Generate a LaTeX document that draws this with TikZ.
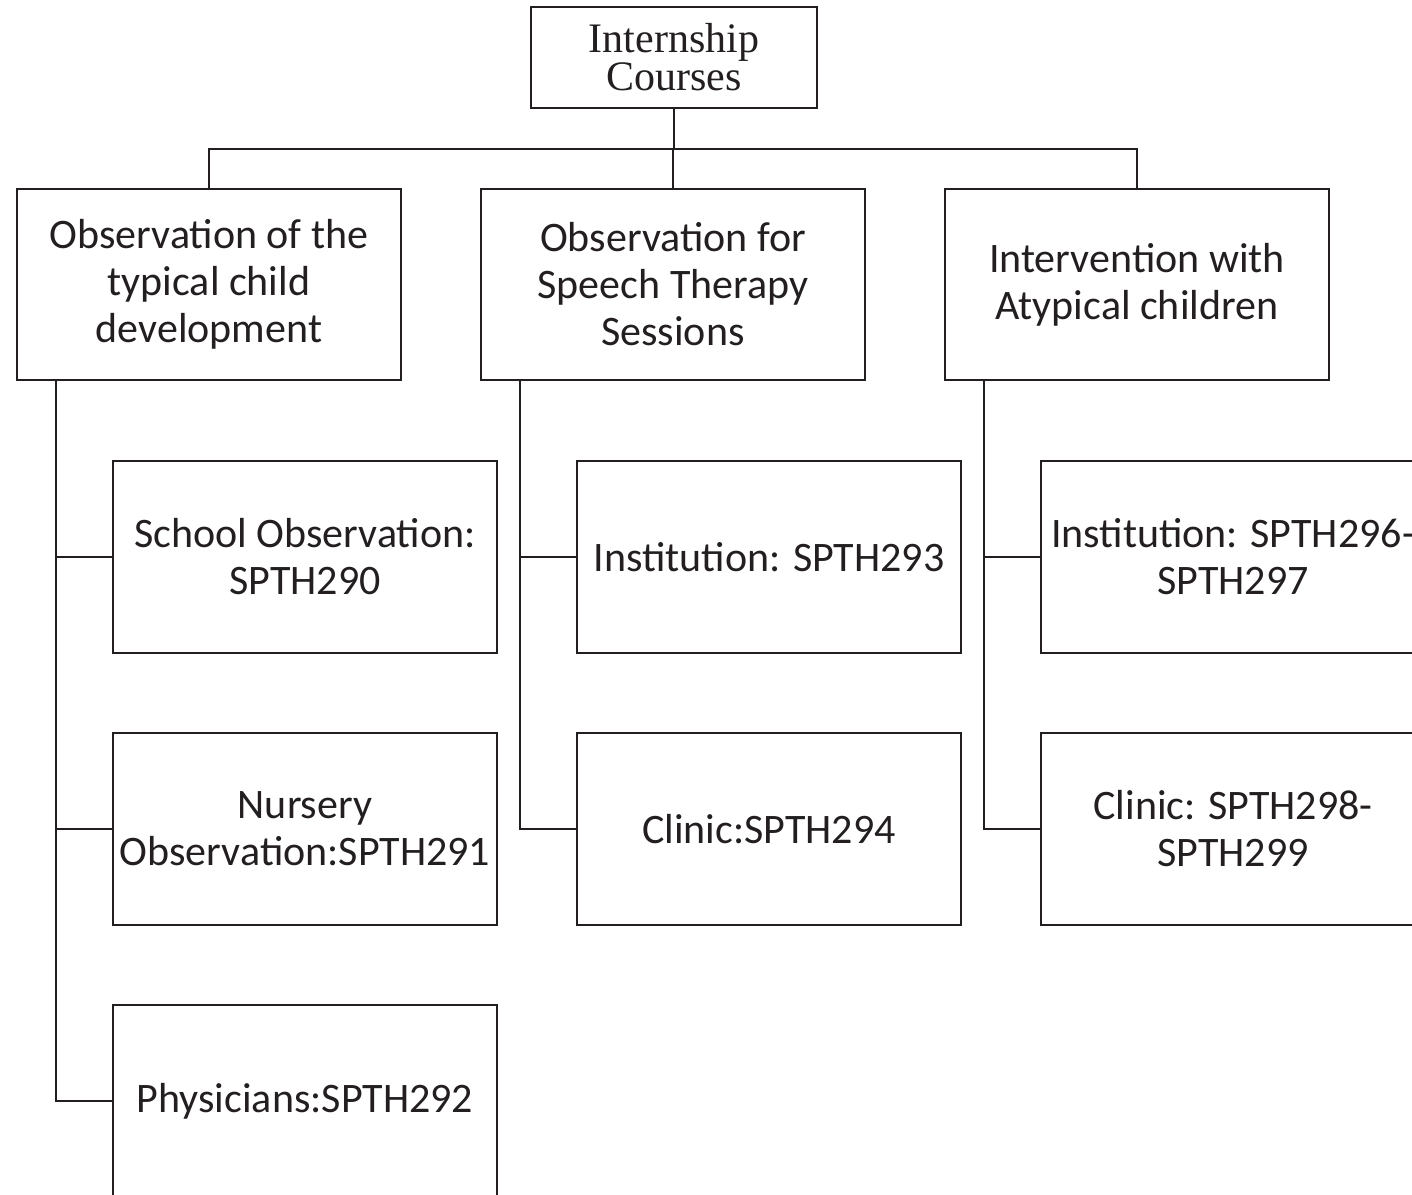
\documentclass[tikz,border=0pt]{standalone}
\usepackage{fontspec}
\usepackage{tikz}
\newfontfamily\calib{Carlito}
\newfontfamily\tms{Liberation Serif}
\definecolor{ink}{HTML}{231F20}

\begin{document}
\begin{tikzpicture}[line width=1.1pt,draw=ink,
    rootbox/.style={draw=ink,fill=white,text=ink,minimum width=143pt,minimum height=50.5pt,
        inner sep=0pt,align=center,font=\tms\fontsize{21}{19}\selectfont},
    groupbox/.style={draw=ink,text=ink,minimum width=192pt,minimum height=95.5pt,
        inner sep=0pt,align=center,font=\calib\fontsize{21}{23.5}\selectfont},
    coursebox/.style={groupbox,minimum height=96pt}]
\clip (0,0) rectangle (706pt,-597pt);
% top
\node[rootbox] (root) at (337pt,-28.75pt) {Internship\\Courses};
% groups
\node[groupbox] (typical) at (104.5pt,-142.25pt) {Observation of the\\typical child\\development};
\node[groupbox] (speech) at (336.5pt,-142.25pt) {Observation for\\Speech Therapy\\Sessions};
\node[groupbox] (atypical) at (568.5pt,-142.25pt) {Intervention with\\Atypical children};
% courses
\node[coursebox] (school) at (152.5pt,-278.5pt) {School Observation:\\SPTH290};
\node[coursebox] (nursery) at (152.5pt,-414.5pt) {Nursery\\Observation:SPTH291};
\node[coursebox] (physicians) at (152.5pt,-550.5pt) {Physicians:SPTH292};
\node[coursebox] (inst) at (384.5pt,-278.5pt) {Institution: SPTH293};
\node[coursebox] (clinic) at (384.5pt,-414.5pt) {Clinic:SPTH294};
\node[coursebox] (instb) at (616.5pt,-278.5pt) {Institution: SPTH296-\\SPTH297};
\node[coursebox] (clinicb) at (616.5pt,-414.5pt) {Clinic: SPTH298-\\SPTH299};
% links
\draw (root.south) -- ++(0,-19.75pt) coordinate (bus);
\draw (bus) -| (typical.north);
\draw (bus) -| (speech.north);
\draw (bus) -| (atypical.north);
\draw ([xshift=20pt]typical.south west) |- (school.west);
\draw ([xshift=20pt]typical.south west) |- (nursery.west);
\draw ([xshift=20pt]typical.south west) |- (physicians.west);
\draw ([xshift=20pt]speech.south west) |- (inst.west);
\draw ([xshift=20pt]speech.south west) |- (clinic.west);
\draw ([xshift=20pt]atypical.south west) |- (instb.west);
\draw ([xshift=20pt]atypical.south west) |- (clinicb.west);
\end{tikzpicture}
\end{document}
